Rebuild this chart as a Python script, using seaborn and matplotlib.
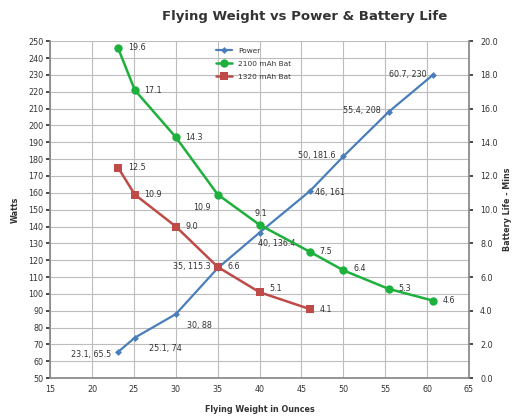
import numpy as np
import pandas as pd
import matplotlib
matplotlib.use("Agg")
import matplotlib.pyplot as plt
import seaborn as sns

# Data
weight = [23.1, 25.1, 30, 35, 40, 46, 50, 55.4, 60.7]
power = [65.5, 74, 88, 115.3, 136.4, 161, 181.6, 208, 230]
bat_2100 = [19.6, 17.1, 14.3, 10.9, 9.1, 7.5, 6.4, 5.3, 4.6]
weight_1320 = [23.1, 25.1, 30, 35, 40, 46]
bat_1320 = [12.5, 10.9, 9.0, 6.6, 5.1, 4.1]

power_labels = ["23.1, 65.5", "25.1, 74", "30, 88", "35, 115.3", "40, 136.4",
                "46, 161", "50, 181.6", "55.4, 208", "60.7, 230"]

BLUE = "#4a7ebb"
GREEN = "#1db03c"
RED = "#be4b48"

sns.set_theme(style="whitegrid")
plt.rcParams["font.family"] = ["DejaVu Sans"]

fig = plt.figure(figsize=(5.12, 4.16), dpi=100)
ax = fig.add_axes([0.098, 0.091, 0.818, 0.810])
ax2 = ax.twinx()

df_p = pd.DataFrame({"w": weight, "v": power})
df_g = pd.DataFrame({"w": weight, "v": bat_2100})
df_r = pd.DataFrame({"w": weight_1320, "v": bat_1320})

sns.lineplot(data=df_p, x="w", y="v", ax=ax, color=BLUE, lw=1.6, marker="D",
             markersize=3.5, markeredgewidth=0, label="Power", legend=False, zorder=3)
sns.lineplot(data=df_g, x="w", y="v", ax=ax2, color=GREEN, lw=1.8, marker="o",
             markersize=6, markeredgewidth=0, label="2100 mAh Bat", legend=False)
sns.lineplot(data=df_r, x="w", y="v", ax=ax2, color=RED, lw=1.8, marker="s",
             markersize=6, markeredgewidth=0, label="1320 mAh Bat", legend=False)

fs = 5.8
tc = "#333333"
ax.set_xlim(15, 65)
ax.set_ylim(50, 250)
ax.set_xticks(np.arange(15, 66, 5))
ax.set_yticks(np.arange(50, 251, 10))
ax2.set_ylim(0, 20)
ax2.set_yticks(np.arange(0, 20.1, 2))
ax2.set_yticklabels([f"{v:.1f}" for v in np.arange(0, 20.1, 2)])
ax.tick_params(labelsize=fs, colors=tc, length=3, pad=2)
ax2.tick_params(labelsize=fs, colors=tc, length=3, pad=5)
ax.grid(True, color="#bdbdbd", lw=0.8)
ax2.grid(False)
for a in (ax, ax2):
    for s in a.spines.values():
        s.set_visible(False)
ax.spines["left"].set_visible(True)
ax.spines["bottom"].set_visible(True)
ax.spines["left"].set_color("#888888")
ax.spines["bottom"].set_color("#888888")
ax2.spines["right"].set_visible(True)
ax2.spines["right"].set_color("#888888")

ax.set_xlabel("Flying Weight in Ounces", fontsize=5.8, fontweight="bold", color=tc, labelpad=8)
ax.set_ylabel("Watts", fontsize=5.8, fontweight="bold", color=tc, labelpad=6)
ax2.set_ylabel("Battery Life - Mins", fontsize=5.8, fontweight="bold", color=tc, labelpad=4)
fig.suptitle("Flying Weight vs Power & Battery Life", x=0.595, y=0.975,
             fontsize=9.5, fontweight="bold", color="#333333")

# Power labels
p_off = [(-34, -2), (10, -8), (8, -8), (-32, 1), (-1, -8), (4, -1), (-33, 1), (-33, 1), (-32, 0)]
for x, y, t, (dx, dy) in zip(weight, power, power_labels, p_off):
    ax.annotate(t, (x, y), xytext=(dx, dy), textcoords="offset points",
                fontsize=fs, color=tc, va="center", ha="left")

g_off = [(7, 0), (7, 0), (7, 0), (-18, -9), (-4, 8), (7, 0), (7, 1), (7, 0), (7, 0)]
for x, y, (dx, dy) in zip(weight, bat_2100, g_off):
    ax2.annotate(f"{y:.1f}", (x, y), xytext=(dx, dy), textcoords="offset points",
                 fontsize=fs, color=tc, va="center", ha="left")

r_off = [(7, 0), (7, 0), (7, 0), (7, 0), (7, 3), (7, 0)]
for x, y, (dx, dy) in zip(weight_1320, bat_1320, r_off):
    ax2.annotate(f"{y:.1f}", (x, y), xytext=(dx, dy), textcoords="offset points",
                 fontsize=fs, color=tc, va="center", ha="left")

h1, l1 = ax.get_legend_handles_labels()
h2, l2 = ax2.get_legend_handles_labels()
ax2.legend(h1 + h2, l1 + l2, loc="upper left", bbox_to_anchor=(0.38, 1.0),
           frameon=False, fontsize=5.3, handlelength=2.2, labelspacing=0.9,
           labelcolor=tc)

fig.savefig("out.png", dpi=100)
